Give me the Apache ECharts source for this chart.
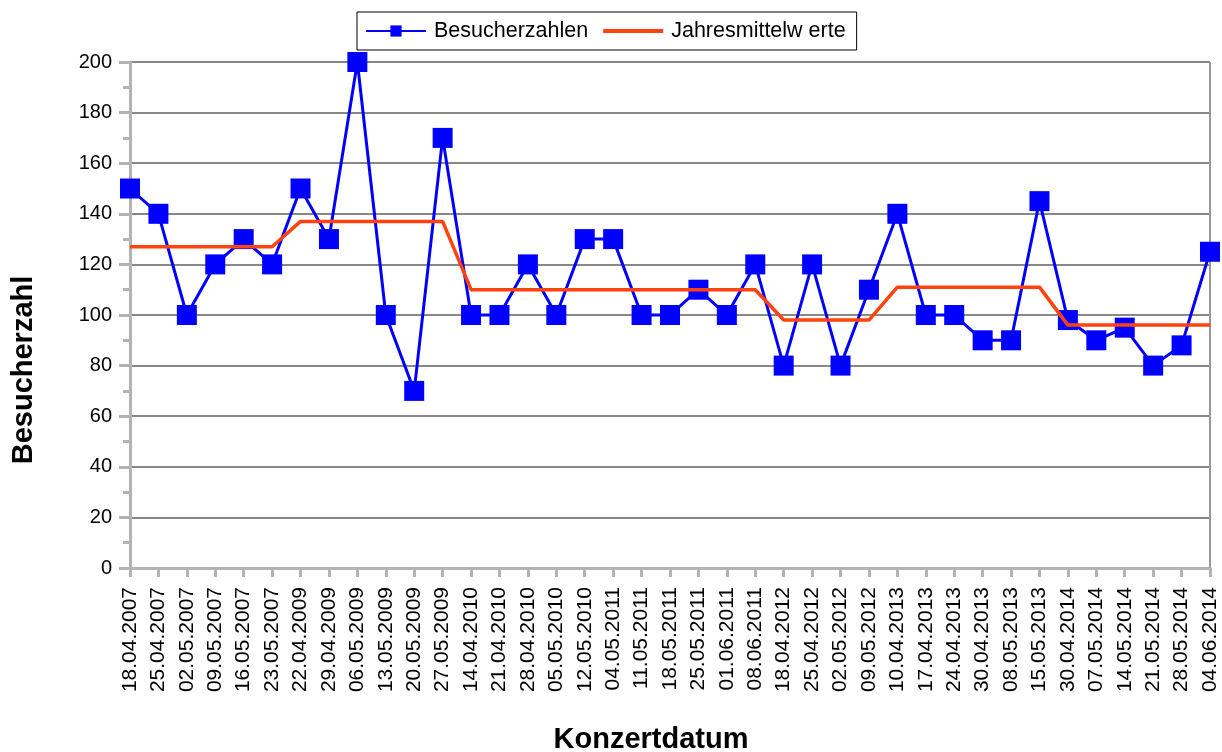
<!DOCTYPE html>
<html><head><meta charset="utf-8">
<script src="https://cdn.jsdelivr.net/npm/echarts@6/dist/echarts.min.js"></script>
<style>html,body{margin:0;padding:0;background:#fff}#c{width:1222px;height:752px}</style>
</head><body><div id="c"></div>
<script>
const categories = ["18.04.2007","25.04.2007","02.05.2007","09.05.2007","16.05.2007","23.05.2007","22.04.2009","29.04.2009","06.05.2009","13.05.2009","20.05.2009","27.05.2009","14.04.2010","21.04.2010","28.04.2010","05.05.2010","12.05.2010","04.05.2011","11.05.2011","18.05.2011","25.05.2011","01.06.2011","08.06.2011","18.04.2012","25.04.2012","02.05.2012","09.05.2012","10.04.2013","17.04.2013","24.04.2013","30.04.2013","08.05.2013","15.05.2013","30.04.2014","07.05.2014","14.05.2014","21.05.2014","28.05.2014","04.06.2014"];
const besucherzahlen = [150,140,100,120,130,120,150,130,200,100,70,170,100,100,120,100,130,130,100,100,110,100,120,80,120,80,110,140,100,100,90,90,145,98,90,95,80,88,125];
const jahresmittelwerte = [127,127,127,127,127,127,137,137,137,137,137,137,110,110,110,110,110,110,110,110,110,110,110,98,98,98,98,111,111,111,111,111,111,96,96,96,96,96,96];
const yTicks = {min:0, max:200, interval:20};
const seriesNames = ['Besucherzahlen','Jahresmittelw erte'];
const axisTitles = {x:'Konzertdatum', y:'Besucherzahl'};

const font = "Liberation Sans, Arial, sans-serif";
const chart = echarts.init(document.getElementById('c'), null, {renderer:'canvas'});
chart.setOption({
  animation:false,
  backgroundColor:'#fff',
  textStyle:{fontFamily:font},
  legend:{
    left:357, top:12, padding:[8,11,8,8],
    borderColor:'#000', borderWidth:1, borderRadius:0,
    itemWidth:60, itemHeight:14, itemGap:15,
    textStyle:{fontFamily:font, fontSize:21.5, color:'#000', padding:[0,0,0,3]},
    data:[{name:seriesNames[0]},{name:seriesNames[1], icon:'path://M0,0H60V4H0Z'}]
  },
  grid:{left:130, right:12, top:62, bottom:184, outerBoundsMode:'none', containLabel:false},
  xAxis:{
    type:'category', data:categories, boundaryGap:false,
    axisLine:{lineStyle:{color:'#b3b3b3', width:3}},
    axisTick:{show:true, inside:false, length:9, interval:0, lineStyle:{color:'#b3b3b3', width:3}},
    axisLabel:{rotate:90, interval:0, fontFamily:font, fontSize:21, color:'#000', margin:19},
    splitLine:{show:false}
  },
  yAxis:{
    type:'value', min:yTicks.min, max:yTicks.max, interval:yTicks.interval,
    axisLine:{show:true, lineStyle:{color:'#b3b3b3', width:3}},
    axisTick:{show:true, inside:false, length:11, lineStyle:{color:'#b3b3b3', width:3}},
    minorTick:{show:true, splitNumber:2, length:7, lineStyle:{color:'#b3b3b3', width:3}},
    axisLabel:{fontFamily:font, fontSize:20, color:'#000', margin:18},
    splitLine:{show:true, lineStyle:{color:'#888', width:2}}
  },
  graphic:[
    {type:'line', shape:{x1:1210, y1:62, x2:1210, y2:568}, style:{stroke:'#999', lineWidth:2}, z:1},
    {type:'text', x:24, y:370, rotation:Math.PI/2,
     style:{text:axisTitles.y, font:'bold 29px Liberation Sans, Arial, sans-serif', fill:'#000', align:'center', verticalAlign:'middle'}},
    {type:'text', x:651, y:740,
     style:{text:axisTitles.x, font:'bold 29px Liberation Sans, Arial, sans-serif', fill:'#000', align:'center', verticalAlign:'middle'}}
  ],
  series:[
    {name:seriesNames[0], type:'line', data:besucherzahlen,
     symbol:'rect', symbolSize:20, showAllSymbol:true,
     lineStyle:{color:'#0000ff', width:3}, itemStyle:{color:'#0000ff'}, z:3},
    {name:seriesNames[1], type:'line', data:jahresmittelwerte,
     symbol:'none', lineStyle:{color:'#ff420e', width:3.5}, itemStyle:{color:'#ff420e'}, z:4}
  ]
});
</script></body></html>
